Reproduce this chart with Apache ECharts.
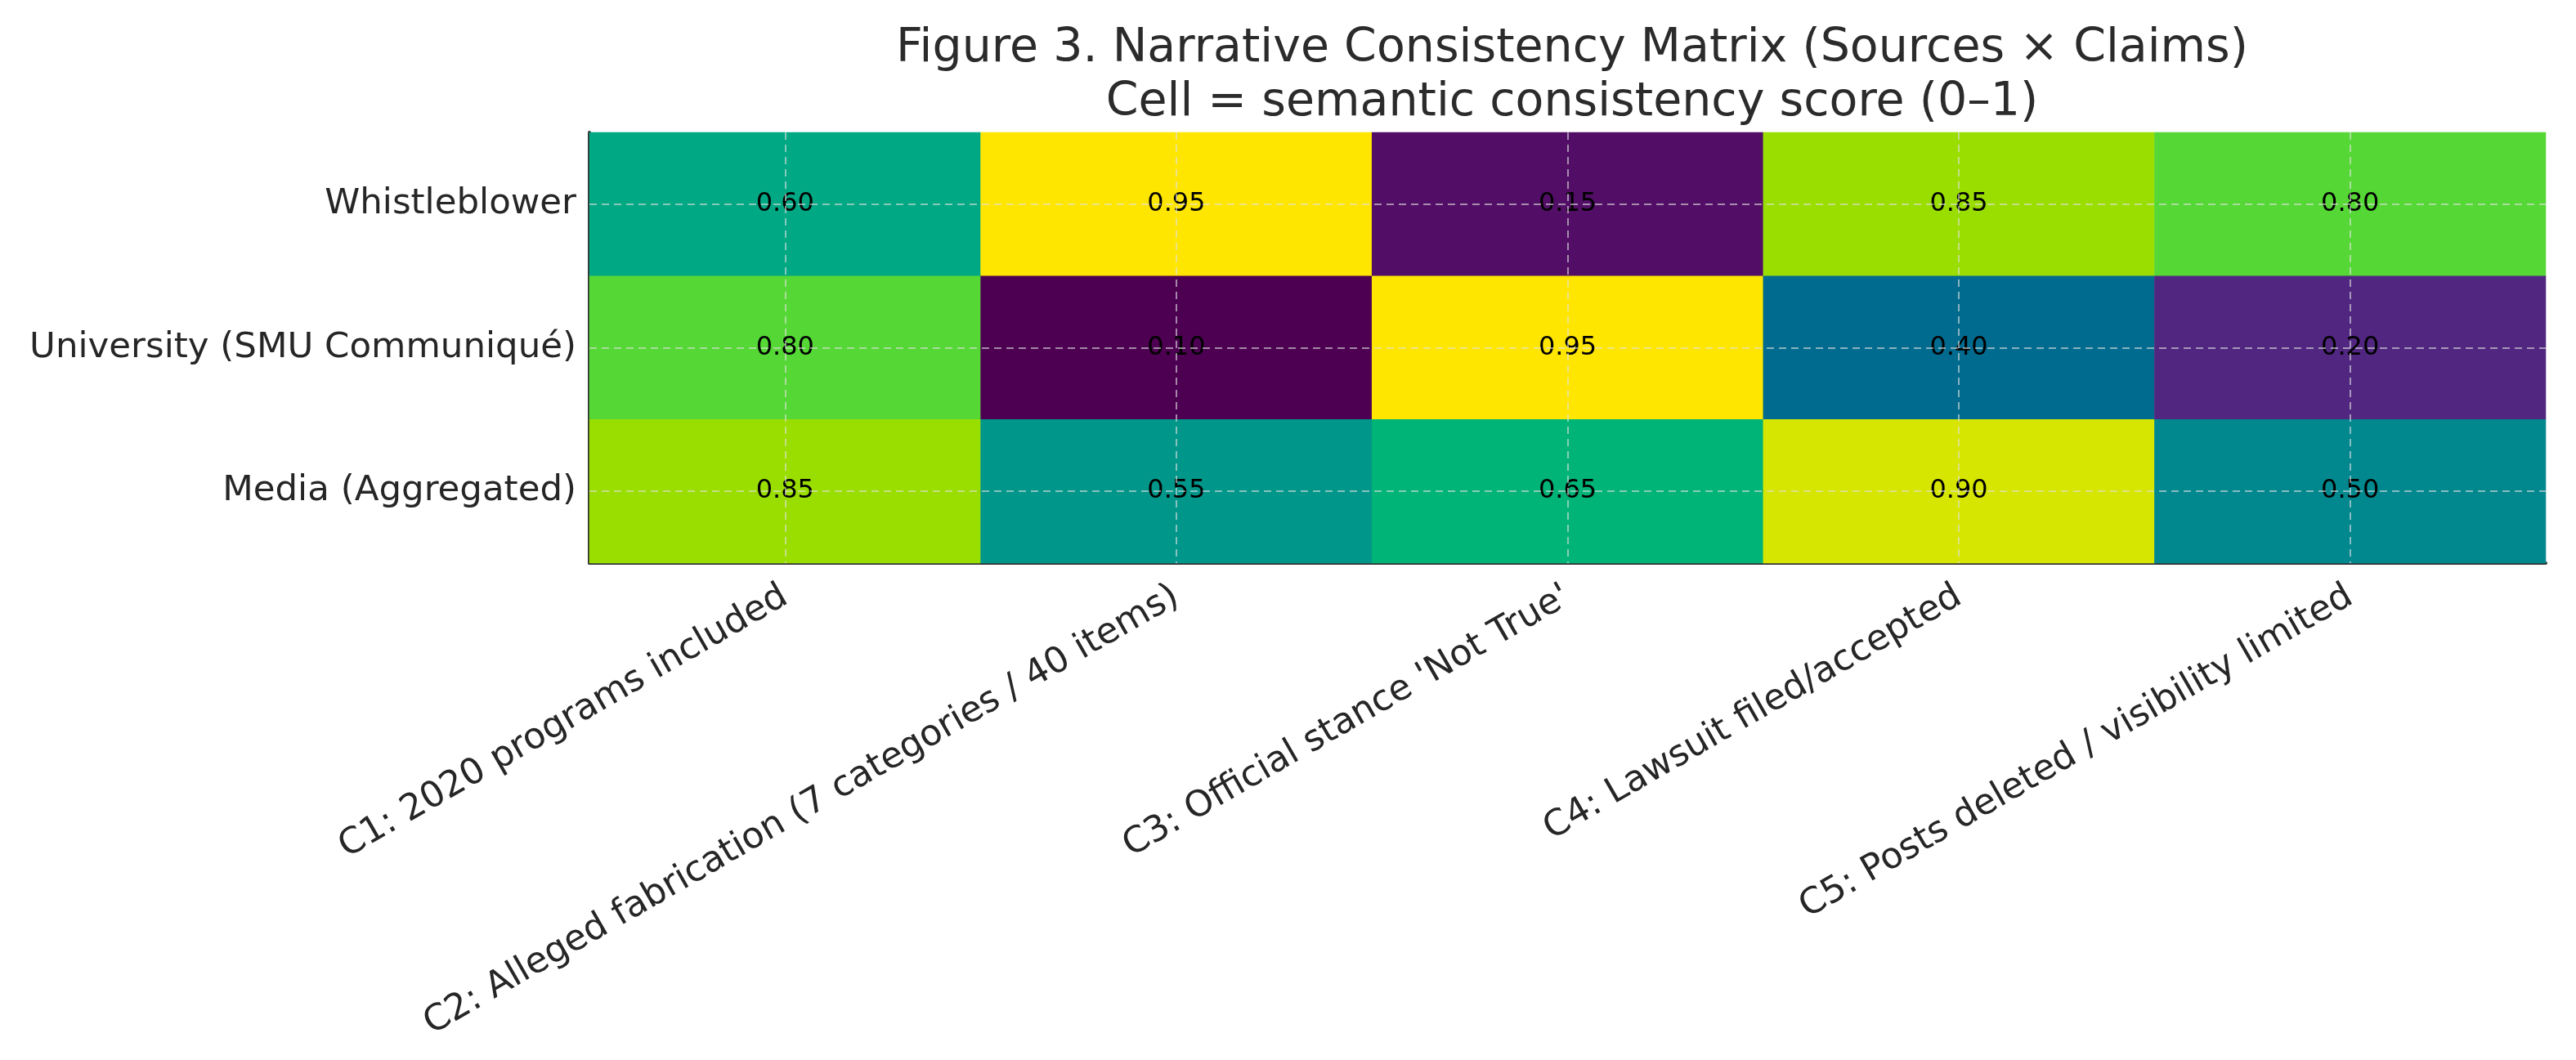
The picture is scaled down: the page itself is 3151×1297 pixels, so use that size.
<!DOCTYPE html>
<html>
<head>
<meta charset="utf-8">
<script src="https://cdn.jsdelivr.net/npm/echarts@6/dist/echarts.min.js"></script>
<style>
  html, body { margin: 0; padding: 0; background: #ffffff; }
  #chart { width: 3151px; height: 1297px; }
</style>
</head>
<body>
<div id="chart"></div>
<script>
// ---- data ----
var claims = [
  "C1: 2020 programs included",
  "C2: Alleged fabrication (7 categories / 40 items)",
  "C3: Official stance 'Not True'",
  "C4: Lawsuit filed/accepted",
  "C5: Posts deleted / visibility limited"
];
var sources = [
  "Whistleblower",
  "University (SMU Communiqué)",
  "Media (Aggregated)"
];
var whistleblowerScores = [0.60, 0.95, 0.15, 0.85, 0.80];
var universityScores    = [0.80, 0.10, 0.95, 0.40, 0.20];
var mediaScores         = [0.85, 0.55, 0.65, 0.90, 0.50];
var scoreRows = [whistleblowerScores, universityScores, mediaScores];

var titleLines = [
  "Figure 3. Narrative Consistency Matrix (Sources \u00d7 Claims)",
  "Cell = semantic consistency score (0\u20131)"
];

// colormap (viridis-like, as rendered in the figure), stops every 0.05 from 0.10 to 0.95
var colormap = [
  "#4d0052", "#520e67", "#512680", "#473a8b", "#3a4c8e", "#1d5c90",
  "#006b8f", "#007a8f", "#00888e", "#00968a", "#00a884", "#00b377",
  "#1fc063", "#3fcc4c", "#55d735", "#9ade00", "#d6e600", "#ffe600"
];

var heatData = [];
scoreRows.forEach(function (row, yi) {
  row.forEach(function (v, xi) { heatData.push([xi, yi, v]); });
});

var gridLineStyle = { type: [9, 6], color: "rgba(225,225,225,0.6)", width: 2 };
var markData = claims.map(function (c) { return { xAxis: c }; })
  .concat(sources.map(function (s) { return { yAxis: s }; }));

var chart = echarts.init(document.getElementById("chart"), null, { renderer: "canvas" });
var FONT = "DejaVu Sans";

chart.setOption({
  animation: false,
  backgroundColor: "#ffffff",
  textStyle: { fontFamily: FONT },
  title: {
    text: titleLines.join("\n"),
    left: 1918,
    top: 22,
    textAlign: "center",
    textStyle: {
      fontFamily: FONT,
      fontSize: 57,
      fontWeight: "normal",
      color: "#2b2b2b",
      lineHeight: 66
    }
  },
  grid: { left: 721, right: 37, top: 162, bottom: 608, containLabel: false },
  xAxis: {
    type: "category",
    data: claims,
    position: "bottom",
    axisLine: { show: true, lineStyle: { color: "#333333", width: 4 } },
    axisTick: { show: true, inside: true, alignWithLabel: true, length: 11, lineStyle: { color: "#222222", width: 3 } },
    axisLabel: {
      rotate: 30,
      margin: 38,
      interval: 0,
      fontFamily: FONT,
      fontSize: 44,
      color: "#262626"
    },
    splitLine: { show: false }
  },
  yAxis: {
    type: "category",
    data: sources,
    inverse: true,
    axisLine: { show: true, lineStyle: { color: "#333333", width: 4 } },
    axisTick: { show: true, inside: true, alignWithLabel: true, length: 11, lineStyle: { color: "#222222", width: 3 } },
    axisLabel: {
      margin: 16,
      interval: 0,
      fontFamily: FONT,
      fontSize: 43.5,
      color: "#262626"
    },
    splitLine: { show: false }
  },
  visualMap: {
    show: false,
    type: "continuous",
    min: 0.10,
    max: 0.95,
    dimension: 2,
    inRange: { color: colormap }
  },
  series: [{
    type: "heatmap",
    data: heatData,
    label: {
      show: true,
      fontFamily: FONT,
      fontSize: 32,
      color: "#000000",
      formatter: function (p) { return p.value[2].toFixed(2); }
    },
    itemStyle: { borderWidth: 0 },
    emphasis: { disabled: true },
    markLine: {
      silent: true,
      symbol: ["none", "none"],
      label: { show: false },
      lineStyle: gridLineStyle,
      emphasis: { disabled: true },
      data: markData
    }
  }]
});
</script>
</body>
</html>
